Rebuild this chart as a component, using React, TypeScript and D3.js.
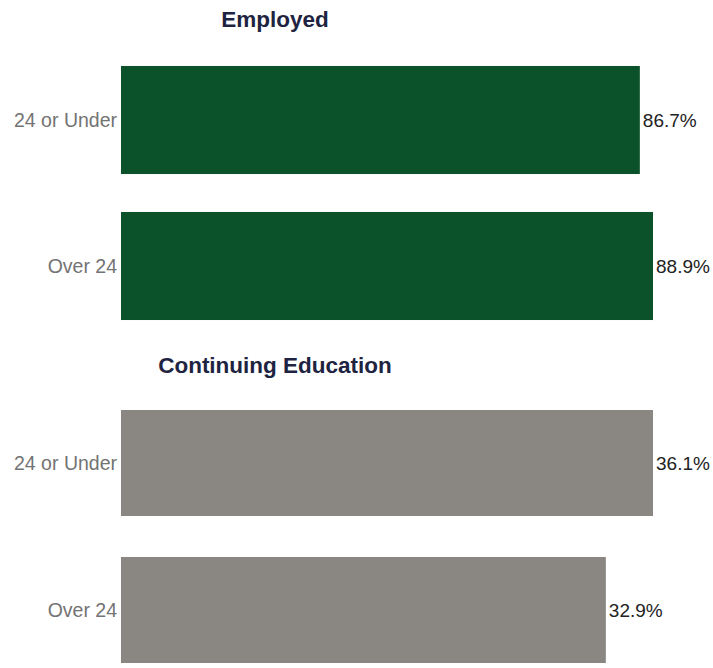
import React from "react";
import * as d3 from "d3";

const employedCategories = ["24 or Under", "Over 24"];
const employedValues = [86.7, 88.9];
const continuingCategories = ["24 or Under", "Over 24"];
const continuingValues = [36.1, 32.9];

const panels = [
  {
    title: "Employed",
    categories: employedCategories,
    values: employedValues,
    color: "#0b522b",
    titleY: 27,
    range: [47, 339] as [number, number],
    padIn: 0.26,
    padOut: 0.13,
  },
  {
    title: "Continuing Education",
    categories: continuingCategories,
    values: continuingValues,
    color: "#8a8782",
    titleY: 373,
    range: [389.5, 683.5] as [number, number],
    padIn: 0.279,
    padOut: 0.1395,
  },
];

const W = 713;
const H = 668;
const X0 = 121;
const X1 = 653;
const FONT = "'Liberation Sans', Arial, sans-serif";

export default function App() {
  return (
    <svg
      width={W}
      height={H}
      style={{ position: "absolute", left: 0, top: 0, background: "#fff" }}
    >
      {panels.map((p) => {
        const x = d3
          .scaleLinear()
          .domain([0, d3.max(p.values) as number])
          .range([X0, X1]);
        const y = d3
          .scaleBand<string>()
          .domain(p.categories)
          .range(p.range)
          .paddingInner(p.padIn)
          .paddingOuter(p.padOut);
        return (
          <g key={p.title}>
            <text
              x={275}
              y={p.titleY}
              textAnchor="middle"
              fontFamily={FONT}
              fontWeight="bold"
              fontSize={22.5}
              fill="#1d2340"
            >
              {p.title}
            </text>
            {p.categories.map((c, i) => {
              const by = y(c) as number;
              const bh = y.bandwidth();
              const v = p.values[i];
              return (
                <g key={c}>
                  <rect
                    x={x(0)}
                    y={by}
                    width={x(v) - x(0)}
                    height={bh}
                    fill={p.color}
                  />
                  <text
                    x={X0 - 4}
                    y={by + bh / 2}
                    dy="0.35em"
                    textAnchor="end"
                    fontFamily={FONT}
                    fontSize={19.5}
                    fill="#737373"
                  >
                    {c}
                  </text>
                  <text
                    x={x(v) + 3}
                    y={by + bh / 2}
                    dy="0.35em"
                    textAnchor="start"
                    fontFamily={FONT}
                    fontSize={19}
                    fill="#222"
                  >
                    {v.toFixed(1)}%
                  </text>
                </g>
              );
            })}
          </g>
        );
      })}
    </svg>
  );
}
